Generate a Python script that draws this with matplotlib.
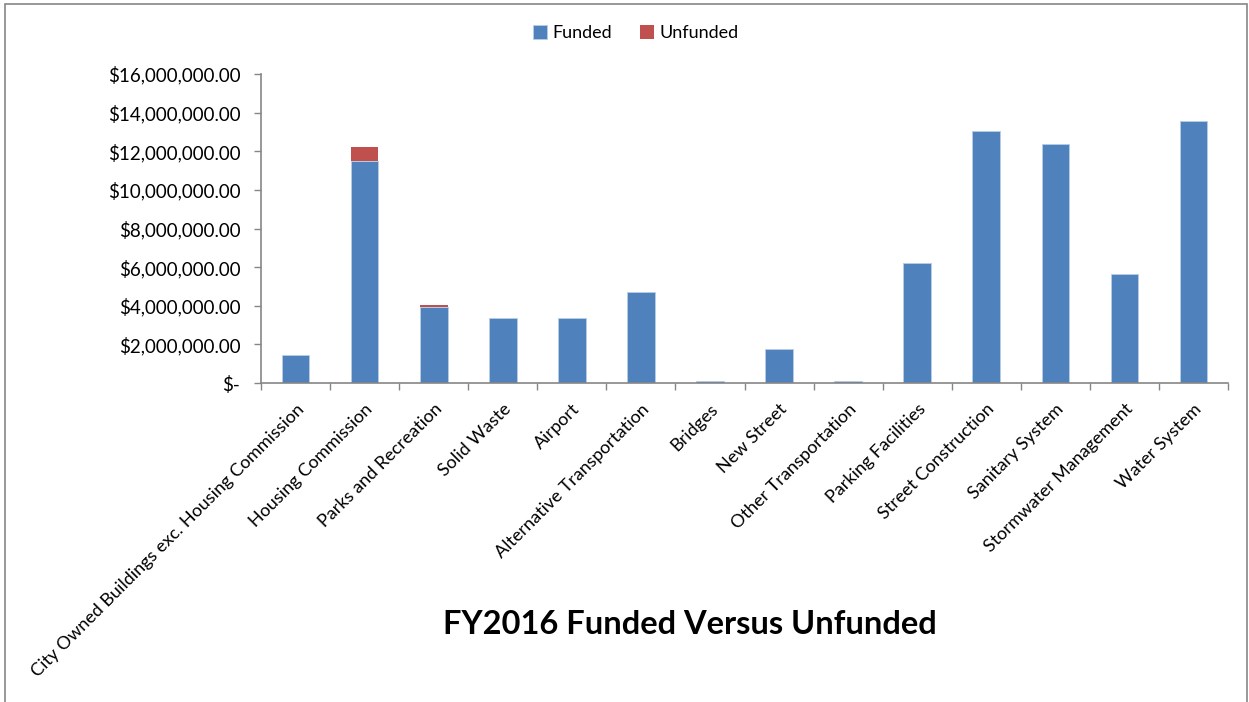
import matplotlib.pyplot as plt
import numpy as np
from matplotlib.patches import Rectangle
from matplotlib.ticker import FuncFormatter, FixedLocator

plt.rcParams["font.family"] = ["Lato", "DejaVu Sans"]

categories = [
    "City Owned Buildings exc. Housing Commission",
    "Housing Commission",
    "Parks and Recreation",
    "Solid Waste",
    "Airport",
    "Alternative Transportation",
    "Bridges",
    "New Street",
    "Other Transportation",
    "Parking Facilities",
    "Street Construction",
    "Sanitary System",
    "Stormwater Management",
    "Water System",
]
funded = [1445000, 11490000, 3920000, 3350000, 3350000, 4700000, 100000,
          1750000, 100000, 6190000, 13070000, 12370000, 5630000, 13550000]
unfunded = [0, 720000, 120000, 0, 0, 0, 0, 0, 0, 0, 0, 0, 0, 0]

FUNDED_COLOR = "#4F81BD"
UNFUNDED_COLOR = "#C0504D"
AXIS_COLOR = "#868686"


def money_fmt(value, _pos):
    if value == 0:
        return "$-"
    return "${:,.2f}".format(value)


fig = plt.figure(figsize=(12.49, 7.02), dpi=100)
ax = fig.add_axes([0.2090, 0.4544, 0.7742, 0.4402])

x = np.arange(len(categories))
ax.bar(x, funded, width=0.4, color=FUNDED_COLOR, label="Funded",
       edgecolor="#B9CDE5", linewidth=0.6)
ax.bar(x, unfunded, width=0.4, bottom=funded, color=UNFUNDED_COLOR,
       label="Unfunded", linewidth=0)

ax.set_xlim(-0.5, len(categories) - 0.5)
ax.set_ylim(0, 16000000)
ax.set_yticks(np.arange(0, 16000001, 2000000))
ax.yaxis.set_major_formatter(FuncFormatter(money_fmt))

# category labels at bar centres, tick marks between categories
ax.set_xticks(x)
ax.set_xticklabels(categories, rotation=45, ha="right", rotation_mode="anchor",
                   fontsize=13)
ax.xaxis.set_minor_locator(FixedLocator(np.arange(-0.5, len(categories), 1.0)))
ax.tick_params(axis="x", which="major", length=0, pad=13)
ax.tick_params(axis="x", which="minor", length=5, color=AXIS_COLOR, width=1)
ax.tick_params(axis="y", length=5, color=AXIS_COLOR, width=1, labelsize=13.5,
               pad=10)

for side in ["top", "right"]:
    ax.spines[side].set_visible(False)
for side in ["left", "bottom"]:
    ax.spines[side].set_color(AXIS_COLOR)
    ax.spines[side].set_linewidth(1.2)

fig.legend(loc="center", bbox_to_anchor=(0.509, 0.953), ncol=2, frameon=False,
           fontsize=13, handlelength=0.8, handleheight=0.8,
           handletextpad=0.3, columnspacing=1.5)

fig.text(0.552, 0.11, "FY2016 Funded Versus Unfunded", ha="center",
         va="center", fontsize=23.5, fontweight="bold")

# outer chart border
fig.patches.append(Rectangle((0.004, -0.01), 0.994, 1.005,
                             transform=fig.transFigure, fill=False,
                             edgecolor=AXIS_COLOR, linewidth=1.2))

fig.savefig("out.png", dpi=100)
plt.close(fig)
